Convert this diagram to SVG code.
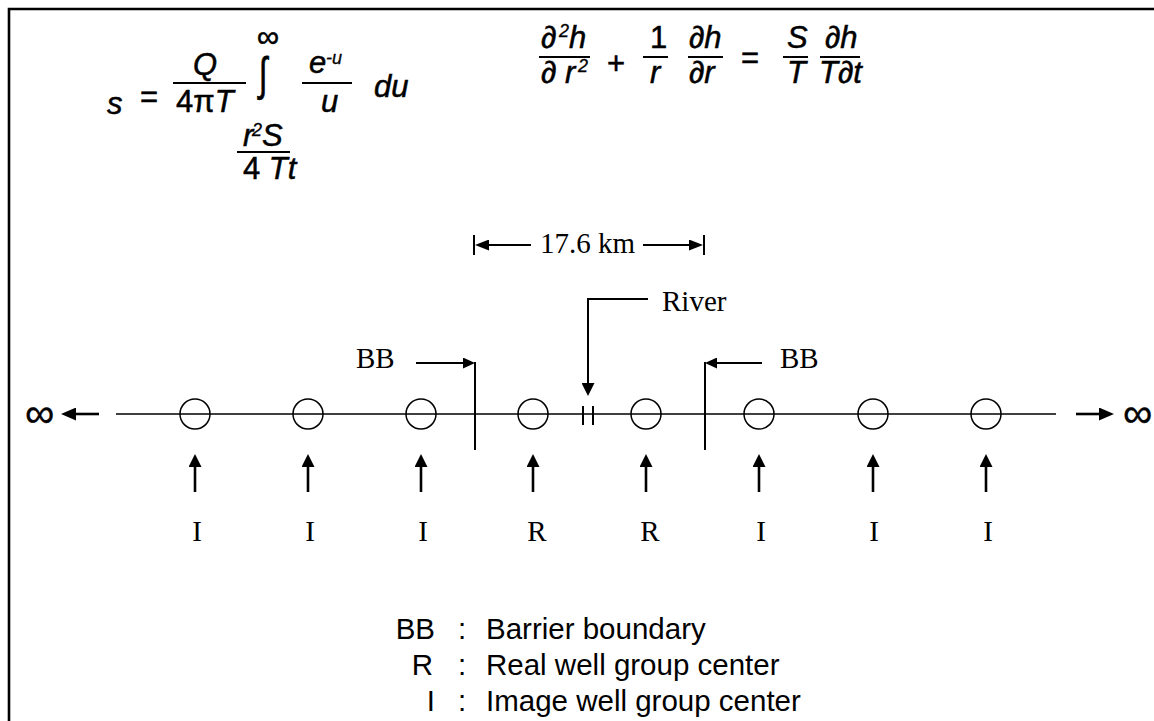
<svg xmlns="http://www.w3.org/2000/svg" width="1154" height="721" viewBox="0 0 1154 721">
<style>
.f{font-family:"Liberation Sans",Arial,sans-serif;font-style:italic;font-size:31px;fill:#000;stroke:#000;stroke-width:0.5}
.fu{font-family:"Liberation Sans",Arial,sans-serif;font-size:31px;fill:#000;stroke:#000;stroke-width:0.5}
.sup{font-family:"Liberation Sans",Arial,sans-serif;font-style:italic;font-size:18px;fill:#000;stroke:#000;stroke-width:0.3}
.t{font-family:"Liberation Serif","Times New Roman",serif;font-size:29px;fill:#000}
.lg{font-family:"Liberation Sans",Arial,sans-serif;font-size:29.5px;fill:#000}
.bar{stroke:#000;stroke-width:2}
.ax{stroke:#000;stroke-width:1.5;fill:none}
.well{stroke:#000;stroke-width:1.5;fill:none}
.arr{stroke:#000;stroke-width:2.6;fill:none}
.thin{stroke:#000;stroke-width:2;fill:none}
.inf{font-family:"Liberation Sans",Arial,sans-serif;font-size:41px;fill:#000;stroke:#000;stroke-width:0.4}
</style>
<defs>
<marker id="hup" viewBox="0 0 13 13" refX="0" refY="6.5" markerWidth="13" markerHeight="13" markerUnits="userSpaceOnUse" orient="auto"><path d="M0,0 L13,6.5 L0,13 z" fill="#000"/></marker>
<marker id="hbb" viewBox="0 0 12 11" refX="0" refY="5.5" markerWidth="12" markerHeight="11" markerUnits="userSpaceOnUse" orient="auto"><path d="M0,0 L12,5.5 L0,11 z" fill="#000"/></marker>
<marker id="hinf" viewBox="0 0 15 13" refX="0" refY="6.5" markerWidth="15" markerHeight="13" markerUnits="userSpaceOnUse" orient="auto"><path d="M0,0 L15,6.5 L0,13 z" fill="#000"/></marker>
<marker id="hdim" viewBox="0 0 14 11" refX="0" refY="5.5" markerWidth="14" markerHeight="11" markerUnits="userSpaceOnUse" orient="auto"><path d="M0,0 L14,5.5 L0,11 z" fill="#000"/></marker>
</defs>
<rect x="0" y="0" width="1154" height="721" fill="#fff"/>
<path d="M9,721 L9,9 L1154,9" stroke="#000" stroke-width="2.6" fill="none"/>

<g id="formula-theis">
<text class="f" x="107" y="114">s</text>
<text class="fu" x="140" y="107">=</text>
<text class="f" x="193" y="75">Q</text>
<line class="bar" x1="173" y1="83" x2="246" y2="83"/>
<text class="fu" x="176" y="112">4π<tspan font-style="italic">T</tspan></text>
<text class="fu" x="257" y="47" font-size="36">∞</text>
<text class="fu" transform="translate(259,89.5) scale(1,1.5)" x="0" y="0" font-size="46">∫</text>
<text class="f" x="309" y="73">e</text>
<text class="sup" x="326" y="64">-u</text>
<line class="bar" x1="302" y1="83" x2="352" y2="83"/>
<text class="f" x="321" y="112">u</text>
<text class="f" x="374" y="97">du</text>
<text class="f" x="243" y="146" font-size="27">r</text>
<text class="sup" x="252" y="136" font-size="15">2</text>
<text class="f" x="262" y="146" font-size="27">S</text>
<line class="bar" x1="237" y1="152" x2="290" y2="152"/>
<text class="fu" x="243" y="179" font-size="27">4 <tspan font-style="italic">Tt</tspan></text>
</g>

<g id="formula-flow">
<text class="f" x="541" y="48">∂</text>
<text class="sup" x="559" y="37">2</text>
<text class="f" x="569" y="48">h</text>
<line class="bar" x1="539" y1="57" x2="590" y2="57"/>
<text class="f" x="541" y="83">∂ r</text>
<text class="sup" x="578" y="72">2</text>
<text class="fu" x="607" y="74">+</text>
<text class="fu" x="650" y="48">1</text>
<line class="bar" x1="643" y1="57" x2="668" y2="57"/>
<text class="f" x="650" y="83">r</text>
<text class="f" x="689" y="48">∂h</text>
<line class="bar" x1="688" y1="57" x2="723" y2="57"/>
<text class="f" x="689" y="83">∂r</text>
<text class="fu" x="741" y="68">=</text>
<text class="f" x="787" y="48">S</text>
<line class="bar" x1="783" y1="57" x2="808" y2="57"/>
<text class="f" x="787" y="83">T</text>
<text class="f" x="825" y="48">∂h</text>
<line class="bar" x1="820" y1="57" x2="860" y2="57"/>
<text class="f" x="819" y="83">T∂t</text>
</g>

<g id="dimension">
<line class="thin" x1="474" y1="235" x2="474" y2="255"/>
<line class="thin" x1="704" y1="235" x2="704" y2="255"/>
<line class="thin" x1="531" y1="245" x2="489" y2="245" marker-end="url(#hdim)"/>
<line class="thin" x1="643" y1="245" x2="689" y2="245" marker-end="url(#hdim)"/>
<text class="t" x="540" y="253">17.6 km</text>
</g>

<g id="connectors">
<line class="ax" x1="116" y1="414" x2="1056" y2="414"/>
<line class="arr" x1="99" y1="414" x2="76" y2="414" marker-end="url(#hinf)"/>
<line class="arr" x1="1076" y1="414" x2="1099" y2="414" marker-end="url(#hinf)"/>
<line class="thin" x1="475" y1="362" x2="475" y2="450"/>
<line class="thin" x1="705" y1="362" x2="705" y2="450"/>
<line class="thin" x1="416" y1="363" x2="463" y2="363" marker-end="url(#hbb)"/>
<line class="thin" x1="762" y1="363" x2="717" y2="363" marker-end="url(#hbb)"/>
<polyline class="thin" points="648,299 588,299 588,383" marker-end="url(#hup)"/>
<line class="thin" x1="583" y1="406" x2="583" y2="425"/>
<line class="thin" x1="593" y1="406" x2="593" y2="425"/>
<line class="arr" x1="195" y1="492" x2="195" y2="467" marker-end="url(#hup)"/>
<line class="arr" x1="308" y1="492" x2="308" y2="467" marker-end="url(#hup)"/>
<line class="arr" x1="421" y1="492" x2="421" y2="467" marker-end="url(#hup)"/>
<line class="arr" x1="533" y1="492" x2="533" y2="467" marker-end="url(#hup)"/>
<line class="arr" x1="646" y1="492" x2="646" y2="467" marker-end="url(#hup)"/>
<line class="arr" x1="759" y1="492" x2="759" y2="467" marker-end="url(#hup)"/>
<line class="arr" x1="873" y1="492" x2="873" y2="467" marker-end="url(#hup)"/>
<line class="arr" x1="986" y1="492" x2="986" y2="467" marker-end="url(#hup)"/>
</g>

<text class="inf" x="25" y="427">∞</text>
<text class="inf" x="1123" y="427">∞</text>
<text class="t" x="356" y="368">BB</text>
<text class="t" x="780" y="368">BB</text>
<text class="t" x="662" y="311">River</text>

<g id="well1"><circle class="well" cx="195" cy="414" r="15"/><text class="t" x="197" y="541" text-anchor="middle">I</text></g>
<g id="well2"><circle class="well" cx="308" cy="414" r="15"/><text class="t" x="310" y="541" text-anchor="middle">I</text></g>
<g id="well3"><circle class="well" cx="421" cy="414" r="15"/><text class="t" x="423" y="541" text-anchor="middle">I</text></g>
<g id="well4"><circle class="well" cx="533" cy="414" r="15"/><text class="t" x="537" y="541" text-anchor="middle">R</text></g>
<g id="well5"><circle class="well" cx="646" cy="414" r="15"/><text class="t" x="650" y="541" text-anchor="middle">R</text></g>
<g id="well6"><circle class="well" cx="759" cy="414" r="15"/><text class="t" x="761" y="541" text-anchor="middle">I</text></g>
<g id="well7"><circle class="well" cx="873" cy="414" r="15"/><text class="t" x="874" y="541" text-anchor="middle">I</text></g>
<g id="well8"><circle class="well" cx="986" cy="414" r="15"/><text class="t" x="988" y="541" text-anchor="middle">I</text></g>

<g id="legend">
<text class="lg" x="435" y="639" text-anchor="end">BB</text>
<text class="lg" x="458" y="639">:</text>
<text class="lg" x="486" y="639">Barrier boundary</text>
<text class="lg" x="433" y="675" text-anchor="end">R</text>
<text class="lg" x="458" y="675">:</text>
<text class="lg" x="486" y="675">Real well group center</text>
<text class="lg" x="435" y="711" text-anchor="end">I</text>
<text class="lg" x="458" y="711">:</text>
<text class="lg" x="486" y="711">Image well group center</text>
</g>
</svg>
